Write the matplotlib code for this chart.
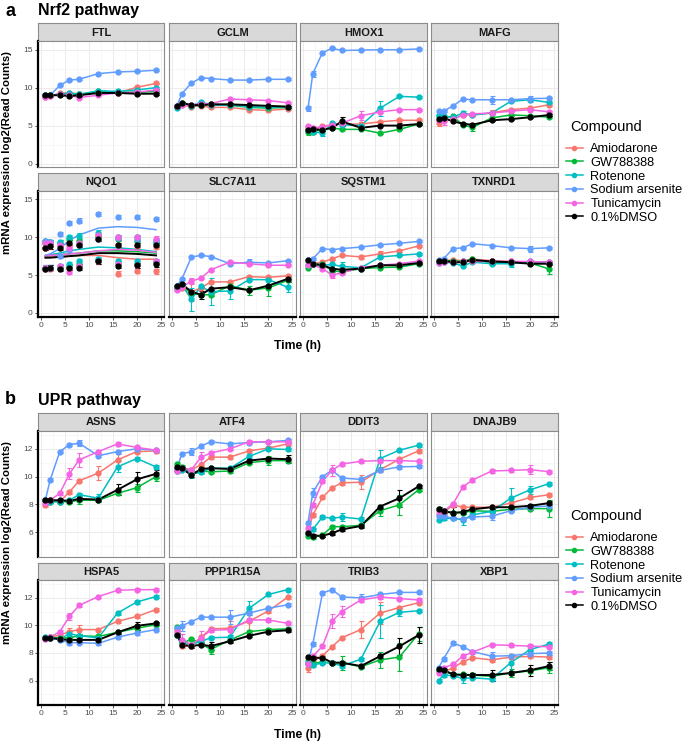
import numpy as np
import matplotlib.pyplot as plt
from matplotlib.lines import Line2D

plt.rcParams['font.family'] = ['Liberation Sans', 'DejaVu Sans']

W, H = 685, 743

times = [1, 2, 4, 6, 8, 12, 16, 20, 24]
compounds = ['AMI', 'GW', 'ROT', 'ARS', 'TUN', 'DMSO']
labels = ['Amiodarone', 'GW788388', 'Rotenone', 'Sodium arsenite', 'Tunicamycin', '0.1%DMSO']
colors = ['#F8766D', '#00BA38', '#00BFC4', '#619CFF', '#F564E3', 'black']

# ---- Nrf2 pathway (mean log2 counts per time point) ----
FTL = {
    'AMI':  [8.8, 8.85, 9.3, 9.3, 9.2, 9.3, 9.3, 10.05, 10.55],
    'GW':   [9.0, 9.0, 9.1, 9.2, 9.1, 9.5, 9.4, 9.4, 9.5],
    'ROT':  [9.0, 9.0, 9.1, 9.3, 9.1, 9.6, 9.5, 9.7, 10.0],
    'ARS':  [9.07, 9.0, 10.3, 11.0, 11.1, 11.85, 12.07, 12.15, 12.3],
    'TUN':  [8.8, 8.9, 9.1, 9.0, 8.7, 9.0, 9.3, 9.4, 9.7],
    'DMSO': [9.0, 9.0, 9.0, 8.9, 9.0, 9.3, 9.3, 9.2, 9.2],
}
GCLM = {
    'AMI':  [7.5, 7.7, 7.5, 7.6, 7.4, 7.4, 7.1, 7.0, 7.2],
    'GW':   [7.6, 8.0, 7.6, 7.7, 7.8, 7.7, 7.4, 7.3, 7.4],
    'ROT':  [7.3, 7.8, 7.6, 8.1, 7.7, 7.7, 7.5, 7.4, 7.5],
    'ARS':  [7.6, 9.2, 10.6, 11.3, 11.2, 11.0, 11.0, 11.1, 11.1],
    'TUN':  [7.6, 7.7, 7.7, 7.9, 7.9, 8.5, 8.4, 8.3, 8.0],
    'DMSO': [7.6, 8.0, 7.7, 7.7, 7.8, 7.8, 7.7, 7.6, 7.5],
}
HMOX1 = {
    'AMI':  [4.7, 4.45, 4.9, 5.1, 5.2, 5.2, 5.5, 5.7, 5.7],
    'GW':   [4.2, 4.2, 4.45, 4.7, 4.5, 4.5, 4.0, 4.5, 5.2],
    'ROT':  [4.45, 4.2, 4.0, 5.3, 5.1, 5.0, 7.3, 8.85, 8.75],
    'ARS':  [7.27, 11.85, 14.6, 15.2, 14.9, 14.95, 15.0, 15.0, 15.1],
    'TUN':  [4.9, 4.7, 4.8, 5.1, 5.3, 6.3, 6.8, 7.1, 7.1],
    'DMSO': [4.45, 4.5, 4.45, 4.7, 5.55, 4.7, 5.0, 5.0, 5.2],
}
MAFG = {
    'AMI':  [5.4, 5.8, 5.8, 6.4, 6.4, 6.7, 7.1, 7.3, 7.75],
    'GW':   [6.2, 6.1, 6.2, 5.1, 4.75, 6.0, 6.4, 6.3, 6.1],
    'ROT':  [6.4, 6.2, 6.1, 6.65, 6.4, 6.65, 8.2, 8.4, 8.05],
    'ARS':  [6.9, 6.9, 7.6, 8.5, 8.4, 8.4, 8.4, 8.55, 8.6],
    'TUN':  [5.7, 5.55, 5.85, 6.4, 6.55, 6.65, 6.9, 7.1, 6.8],
    'DMSO': [5.85, 6.0, 5.55, 5.25, 5.1, 5.7, 5.85, 6.1, 6.4],
}
# NQO1 replicates fall into a high and a low group
NQO1_hi = {
    'AMI':  [8.6, 8.8, 8.8, 9.0, 9.0, 10.0, 9.0, 8.9, 8.7],
    'GW':   [9.2, 9.4, 9.3, 9.8, 9.5, 10.2, 9.8, 9.5, 9.3],
    'ROT':  [9.5, 9.4, 9.4, 10.0, 10.2, 10.6, 10.0, 10.0, 9.5],
    'ARS':  [9.5, 9.4, 10.4, 11.9, 12.2, 13.05, 12.7, 12.7, 12.4],
    'TUN':  [9.3, 9.2, 9.0, 8.6, 9.3, 10.3, 10.0, 10.0, 9.8],
    'DMSO': [8.6, 8.8, 8.6, 9.3, 9.0, 9.8, 9.0, 9.0, 9.0],
}
NQO1_lo = {
    'AMI':  [5.8, 5.8, 6.0, 6.0, 6.2, 6.8, 5.2, 5.6, 5.5],
    'GW':   [6.0, 6.0, 6.0, 6.2, 6.5, 7.0, 6.5, 6.5, 6.6],
    'ROT':  [5.9, 6.0, 6.2, 6.4, 6.8, 7.1, 6.8, 6.8, 6.8],
    'ARS':  [6.0, 6.0, 7.5, 8.3, 9.0, 9.8, 9.9, 9.8, 9.6],
    'TUN':  [6.0, 6.0, 6.2, 5.4, 6.2, 6.8, 6.4, 6.3, 6.8],
    'DMSO': [5.8, 6.0, 5.8, 6.0, 6.0, 6.8, 6.2, 6.3, 6.4],
}
NQO1_fit = {
    'AMI':  [7.3, 7.4, 7.4, 7.5, 7.6, 7.6, 7.3, 7.1, 7.1],
    'GW':   [7.5, 7.6, 7.7, 7.8, 7.9, 8.2, 8.2, 8.1, 7.9],
    'ROT':  [7.6, 7.7, 7.9, 8.2, 8.4, 8.7, 8.6, 8.4, 8.1],
    'ARS':  [7.6, 7.8, 8.5, 9.6, 10.3, 11.2, 11.4, 11.3, 11.0],
    'TUN':  [7.5, 7.6, 7.7, 7.8, 7.9, 8.2, 8.4, 8.3, 8.0],
    'DMSO': [7.3, 7.3, 7.4, 7.5, 7.6, 7.9, 7.9, 7.8, 7.6],
}
SLC7A11 = {
    'AMI':  [3.3, 3.3, 2.8, 3.3, 4.1, 4.1, 4.8, 4.7, 4.9],
    'GW':   [3.5, 3.5, 2.6, 2.4, 2.4, 3.6, 3.0, 3.3, 4.3],
    'ROT':  [3.2, 3.7, 1.8, 3.5, 2.8, 2.9, 4.4, 4.4, 3.4],
    'ARS':  [3.6, 4.45, 7.4, 7.6, 7.45, 6.5, 6.7, 6.6, 6.9],
    'TUN':  [3.0, 3.4, 4.2, 4.6, 5.7, 6.7, 6.5, 6.3, 6.3],
    'DMSO': [3.6, 3.8, 2.8, 2.4, 3.2, 3.4, 3.0, 3.6, 4.5],
}
SQSTM1 = {
    'AMI':  [6.9, 6.5, 6.7, 7.15, 7.6, 7.4, 7.8, 8.2, 8.85],
    'GW':   [6.0, 6.4, 6.4, 5.6, 5.4, 5.85, 6.0, 6.05, 6.5],
    'ROT':  [6.3, 6.4, 6.3, 6.4, 6.15, 5.97, 7.4, 7.6, 7.8],
    'ARS':  [6.95, 7.15, 8.5, 8.35, 8.5, 8.7, 9.0, 9.2, 9.45],
    'TUN':  [6.3, 6.4, 5.85, 5.0, 5.3, 6.0, 6.3, 6.5, 6.85],
    'DMSO': [6.95, 6.5, 6.3, 5.85, 5.7, 5.85, 6.3, 6.3, 6.6],
}
TXNRD1 = {
    'AMI':  [6.8, 6.9, 7.0, 6.9, 7.1, 6.9, 6.8, 6.7, 6.7],
    'GW':   [6.9, 6.9, 6.9, 6.8, 7.1, 6.6, 6.7, 6.6, 5.8],
    'ROT':  [6.6, 6.7, 6.6, 6.2, 6.7, 6.5, 6.5, 6.8, 6.7],
    'ARS':  [6.95, 7.15, 8.5, 8.6, 9.15, 8.9, 8.6, 8.5, 8.6],
    'TUN':  [6.6, 6.7, 6.7, 6.8, 6.8, 6.8, 6.8, 6.8, 6.7],
    'DMSO': [6.8, 6.9, 6.7, 6.7, 7.0, 6.8, 6.7, 6.5, 6.5],
}

# ---- UPR pathway ----
ASNS = {
    'AMI':  [7.97, 8.33, 8.2, 8.9, 9.7, 10.25, 11.2, 11.8, 11.85],
    'GW':   [8.3, 8.2, 8.2, 8.2, 8.3, 8.3, 8.8, 9.2, 10.0],
    'ROT':  [8.3, 8.2, 8.2, 8.3, 8.7, 8.45, 10.7, 11.3, 10.7],
    'ARS':  [8.33, 9.77, 11.8, 12.3, 12.4, 11.5, 11.8, 12.0, 11.9],
    'TUN':  [8.1, 8.3, 8.8, 10.2, 11.2, 11.8, 12.35, 12.1, 11.9],
    'DMSO': [8.3, 8.3, 8.3, 8.25, 8.4, 8.35, 9.05, 9.8, 10.2],
}
ATF4 = {
    'AMI':  [10.5, 10.6, 10.5, 10.85, 11.4, 11.4, 11.85, 12.05, 12.35],
    'GW':   [10.9, 10.7, 10.3, 10.4, 10.35, 10.4, 11.0, 11.15, 11.15],
    'ROT':  [10.4, 10.5, 10.2, 10.3, 10.6, 10.6, 11.45, 12.0, 11.95],
    'ARS':  [10.6, 11.64, 11.8, 12.2, 12.5, 12.35, 12.45, 12.5, 12.6],
    'TUN':  [10.4, 10.6, 10.5, 11.4, 11.7, 12.0, 12.5, 12.5, 12.5],
    'DMSO': [10.7, 10.6, 10.1, 10.55, 10.6, 10.55, 11.15, 11.3, 11.25],
}
DDIT3 = {
    'AMI':  [6.05, 7.25, 8.5, 9.2, 9.55, 9.6, 10.5, 11.25, 11.85],
    'GW':   [5.7, 5.65, 5.8, 6.4, 6.4, 6.5, 7.55, 7.97, 9.05],
    'ROT':  [5.93, 6.2, 7.1, 7.0, 7.1, 6.95, 11.3, 11.9, 12.25],
    'ARS':  [6.7, 8.85, 10.0, 10.45, 9.9, 9.8, 10.45, 10.7, 10.73],
    'TUN':  [6.3, 7.97, 9.65, 10.45, 10.9, 11.1, 11.15, 11.15, 11.1],
    'DMSO': [5.93, 5.75, 5.75, 5.93, 6.2, 6.45, 7.85, 8.45, 9.3],
}
DNAJB9 = {
    'AMI':  [7.3, 7.4, 7.97, 7.8, 7.8, 7.8, 8.1, 8.5, 8.7],
    'GW':   [7.7, 7.5, 7.4, 7.4, 7.55, 7.5, 7.65, 7.7, 7.7],
    'ROT':  [6.9, 7.0, 7.0, 6.9, 7.25, 7.5, 8.45, 9.05, 9.5],
    'ARS':  [7.15, 7.15, 7.0, 6.95, 7.1, 7.15, 7.55, 7.8, 7.9],
    'TUN':  [7.5, 7.5, 8.05, 9.25, 9.75, 10.4, 10.45, 10.5, 10.35],
    'DMSO': [7.7, 7.5, 7.4, 7.45, 7.65, 7.8, 7.8, 7.9, 8.1],
}
HSPA5 = {
    'AMI':  [9.1, 9.15, 9.3, 9.55, 9.7, 9.7, 10.3, 10.65, 11.15],
    'GW':   [9.1, 9.1, 9.1, 9.1, 9.25, 9.2, 9.5, 9.8, 10.05],
    'ROT':  [9.15, 9.15, 9.0, 9.4, 9.25, 9.1, 10.9, 11.7, 12.1],
    'ARS':  [9.1, 9.1, 8.95, 8.75, 8.75, 8.7, 9.15, 9.45, 9.7],
    'TUN':  [9.0, 9.15, 9.55, 10.65, 11.45, 12.1, 12.55, 12.6, 12.6],
    'DMSO': [9.1, 9.1, 9.0, 8.95, 8.95, 8.95, 9.5, 9.97, 10.15],
}
PPP1R15A = {
    'AMI':  [9.7, 8.5, 8.5, 9.15, 9.75, 9.8, 10.3, 11.05, 12.05],
    'GW':   [9.9, 8.7, 9.0, 8.7, 8.25, 8.95, 9.55, 9.7, 9.75],
    'ROT':  [9.3, 8.85, 8.6, 8.85, 9.1, 9.15, 11.25, 12.25, 12.6],
    'ARS':  [9.8, 9.97, 10.28, 10.6, 10.6, 10.6, 10.9, 11.25, 11.5],
    'TUN':  [9.55, 8.95, 8.6, 9.1, 9.65, 9.7, 10.4, 10.4, 10.15],
    'DMSO': [9.3, 8.6, 8.5, 8.6, 8.5, 8.85, 9.25, 9.55, 9.65],
}
TRIB3 = {
    'AMI':  [6.93, 7.4, 7.8, 8.45, 9.1, 9.7, 10.9, 11.3, 11.65],
    'GW':   [7.4, 7.25, 7.35, 7.25, 7.3, 7.0, 7.5, 7.7, 9.4],
    'ROT':  [7.17, 7.1, 7.3, 7.3, 7.05, 7.55, 10.3, 10.95, 11.07],
    'ARS':  [7.3, 8.65, 12.35, 12.6, 12.07, 12.0, 12.25, 12.4, 12.4],
    'TUN':  [7.17, 7.77, 8.48, 10.3, 11.0, 11.85, 12.07, 11.95, 11.85],
    'DMSO': [7.7, 7.65, 7.65, 7.3, 7.3, 7.05, 7.77, 8.48, 9.3],
}
XBP1 = {
    'AMI':  [6.7, 6.6, 6.93, 7.35, 7.65, 7.5, 7.7, 7.75, 7.7],
    'GW':   [6.75, 6.75, 6.4, 6.45, 6.4, 6.3, 6.55, 6.7, 6.93],
    'ROT':  [6.0, 6.4, 6.35, 6.15, 6.2, 6.1, 7.3, 8.25, 8.65],
    'ARS':  [6.93, 7.57, 8.72, 8.45, 8.1, 7.77, 7.8, 7.95, 8.0],
    'TUN':  [6.57, 6.93, 7.17, 7.77, 8.05, 8.6, 8.55, 8.5, 8.45],
    'DMSO': [6.85, 6.75, 6.45, 6.4, 6.4, 6.4, 6.55, 6.75, 7.05],
}

# standard deviations that are visibly larger than the usual small whiskers
sd_default = 0.12
sd_big = {
    ('HMOX1', 'DMSO'): {8: 0.6, 20: 0.4}, ('HMOX1', 'AMI'): {2: 0.5},
    ('HMOX1', 'ROT'): {4: 0.35, 16: 1.0}, ('HMOX1', 'TUN'): {12: 0.6},
    ('HMOX1', 'GW'): {1: 0.5}, ('HMOX1', 'ARS'): {1: 0.3, 2: 0.4},
    ('MAFG', 'GW'): {8: 0.5}, ('MAFG', 'AMI'): {1: 0.4, 12: 0.3},
    ('MAFG', 'TUN'): {2: 0.5}, ('MAFG', 'ARS'): {12: 0.5, 20: 0.4},
    ('MAFG', 'ROT'): {6: 0.3},
    ('SLC7A11', 'ROT'): {4: 1.5, 8: 1.8, 12: 1.0, 24: 0.7},
    ('SLC7A11', 'AMI'): {4: 1.2}, ('SLC7A11', 'GW'): {16: 0.6, 20: 1.1},
    ('SLC7A11', 'ARS'): {16: 0.4}, ('SLC7A11', 'DMSO'): {6: 0.5, 24: 0.4},
    ('SLC7A11', 'TUN'): {4: 0.4},
    ('SQSTM1', 'TUN'): {6: 0.4}, ('SQSTM1', 'ROT'): {8: 0.6},
    ('SQSTM1', 'AMI'): {12: 0.3, 16: 0.4},
    ('TXNRD1', 'GW'): {24: 0.6}, ('TXNRD1', 'ROT'): {16: 0.4},
    ('TXNRD1', 'ARS'): {20: 0.4}, ('TXNRD1', 'DMSO'): {4: 0.3},
    ('ASNS', 'TUN'): {6: 0.4, 8: 0.5}, ('ASNS', 'AMI'): {12: 0.5, 16: 0.4},
    ('ASNS', 'ROT'): {12: 0.3, 16: 0.4}, ('ASNS', 'DMSO'): {16: 0.4, 20: 0.5, 24: 0.3},
    ('ASNS', 'GW'): {8: 0.3, 20: 0.3, 24: 0.3}, ('ASNS', 'ARS'): {8: 0.2},
    ('ATF4', 'TUN'): {6: 0.35}, ('ATF4', 'ARS'): {4: 0.25}, ('ATF4', 'ROT'): {4: 0.3},
    ('ATF4', 'GW'): {20: 0.3}, ('ATF4', 'DMSO'): {24: 0.3},
    ('DDIT3', 'ROT'): {8: 0.3, 16: 0.6}, ('DDIT3', 'AMI'): {12: 0.5},
    ('DDIT3', 'DMSO'): {20: 0.6}, ('DDIT3', 'GW'): {16: 0.4, 20: 0.7},
    ('DDIT3', 'TUN'): {6: 0.4}, ('DDIT3', 'ARS'): {2: 0.3},
    ('DNAJB9', 'ROT'): {6: 0.4, 16: 0.7, 20: 0.3}, ('DNAJB9', 'TUN'): {20: 0.3},
    ('DNAJB9', 'GW'): {24: 0.6}, ('DNAJB9', 'ARS'): {12: 0.3},
    ('DNAJB9', 'DMSO'): {4: 0.4},
    ('HSPA5', 'TUN'): {6: 0.25}, ('HSPA5', 'ROT'): {6: 0.2},
    ('HSPA5', 'AMI'): {6: 0.3, 8: 0.3}, ('HSPA5', 'ARS'): {6: 0.2},
    ('HSPA5', 'DMSO'): {20: 0.3},
    ('PPP1R15A', 'ARS'): {2: 0.35, 12: 0.5}, ('PPP1R15A', 'TUN'): {2: 0.4, 6: 0.5},
    ('PPP1R15A', 'AMI'): {12: 0.5, 16: 0.6}, ('PPP1R15A', 'ROT'): {16: 0.5},
    ('PPP1R15A', 'GW'): {8: 0.3}, ('PPP1R15A', 'DMSO'): {8: 0.3},
    ('TRIB3', 'TUN'): {6: 0.5, 8: 0.4}, ('TRIB3', 'AMI'): {1: 0.3, 12: 0.6, 16: 0.8},
    ('TRIB3', 'ROT'): {16: 1.2, 20: 0.3}, ('TRIB3', 'GW'): {8: 0.5, 16: 0.6, 20: 1.0, 24: 0.5},
    ('TRIB3', 'DMSO'): {20: 0.6, 24: 0.6}, ('TRIB3', 'ARS'): {12: 0.3},
    ('XBP1', 'ROT'): {6: 0.3, 16: 0.6}, ('XBP1', 'DMSO'): {12: 0.4, 20: 0.4, 24: 0.3},
    ('XBP1', 'GW'): {16: 0.3, 24: 0.4}, ('XBP1', 'ARS'): {12: 0.3},
}

nrf2_genes = ['FTL', 'GCLM', 'HMOX1', 'MAFG', 'NQO1', 'SLC7A11', 'SQSTM1', 'TXNRD1']
nrf2_data = [FTL, GCLM, HMOX1, MAFG, None, SLC7A11, SQSTM1, TXNRD1]
upr_genes = ['ASNS', 'ATF4', 'DDIT3', 'DNAJB9', 'HSPA5', 'PPP1R15A', 'TRIB3', 'XBP1']
upr_data = [ASNS, ATF4, DDIT3, DNAJB9, HSPA5, PPP1R15A, TRIB3, XBP1]

fig = plt.figure(figsize=(W / 100, H / 100), dpi=100)

col_x = [37.7, 169.3, 300.3, 431.0]
col_w = 126.5
border = '#8C8C8C'


def add_px_axes(x0, y0, x1, y1):
    return fig.add_axes([x0 / W, 1 - y1 / H, (x1 - x0) / W, (y1 - y0) / H])


def get_sd(gene, comp):
    extra = sd_big.get((gene, comp), {})
    return [extra.get(t, sd_default) for t in times]


def style_panel(ax, ylim, yticks, yminor, first_col, bottom_row):
    ax.set_xlim(-0.6, 25.7)
    ax.set_ylim(*ylim)
    ax.set_xticks([0, 5, 10, 15, 20, 25])
    ax.set_xticks([2.5, 7.5, 12.5, 17.5, 22.5], minor=True)
    ax.set_yticks(yticks)
    ax.set_yticks(yminor, minor=True)
    ax.grid(which='major', color='#EBEBEB', lw=0.7, zorder=0)
    ax.grid(which='minor', color='#F2F2F2', lw=0.4, zorder=0)
    ax.set_axisbelow(True)
    for s in ax.spines.values():
        s.set_color(border)
        s.set_linewidth(0.8)
    ax.tick_params(which='minor', length=0)
    ax.tick_params(which='major', labelsize=6, labelcolor='#4D4D4D',
                   color='#333333', length=2.5, width=0.6, pad=1)
    if first_col:
        ax.spines['left'].set_color('black')
        ax.spines['left'].set_linewidth(1.6)
    else:
        ax.tick_params(axis='y', left=False, labelleft=False)
    if bottom_row:
        ax.spines['bottom'].set_color('black')
        ax.spines['bottom'].set_linewidth(1.6)
    else:
        ax.tick_params(axis='x', bottom=False, labelbottom=False)


def add_strip(x0, y0, y1, name):
    sax = add_px_axes(x0, y0, x0 + col_w, y1)
    sax.set_facecolor('#D9D9D9')
    sax.set_xticks([])
    sax.set_yticks([])
    for s in sax.spines.values():
        s.set_color(border)
        s.set_linewidth(0.8)
    sax.text(0.5, 0.47, name, ha='center', va='center', fontsize=8,
             fontweight='bold', color='#1A1A1A', transform=sax.transAxes)


def draw_series(ax, gene, data):
    for comp, col in zip(compounds, colors):
        lw = 1.4 if comp == 'DMSO' else 1.1
        ax.plot(times, data[comp], color=col, lw=lw, zorder=3)
        ax.errorbar(times, data[comp], yerr=get_sd(gene, comp), fmt='o', ms=3.5,
                    color=col, ecolor=col, elinewidth=0.8, capsize=1.8,
                    capthick=0.8, zorder=4)


def draw_nqo1(ax):
    for comp, col in zip(compounds, colors):
        lw = 1.4 if comp == 'DMSO' else 1.1
        for grp in (NQO1_hi, NQO1_lo):
            ax.errorbar(times, grp[comp], yerr=0.3, fmt='o', ms=3.5, color=col,
                        ecolor=col, elinewidth=0.8, capsize=1.8, capthick=0.8,
                        zorder=4)
        ax.plot(times, NQO1_fit[comp], color=col, lw=lw, zorder=3)


def draw_block(genes, datasets, rows, ylim, yticks, yminor):
    for i, (gene, data) in enumerate(zip(genes, datasets)):
        r, c = divmod(i, 4)
        (s0, s1), (p0, p1) = rows[r]
        x0 = col_x[c]
        add_strip(x0, s0, s1, gene)
        ax = add_px_axes(x0, p0, x0 + col_w, p1)
        style_panel(ax, ylim, yticks, yminor, c == 0, r == 1)
        if data is None:
            draw_nqo1(ax)
        else:
            draw_series(ax, gene, data)


# panel a
draw_block(nrf2_genes, nrf2_data,
           [((23.3, 41.0), (41.0, 167.3)), ((172.7, 190.7), (190.7, 316.7))],
           (-0.5, 16.15), [0, 5, 10, 15], [2.5, 7.5, 12.5])
# panel b
draw_block(upr_genes, upr_data,
           [((412.7, 430.7), (430.7, 557.3)), ((562.7, 580.0), (580.0, 705.3))],
           (4.2, 13.3), [6, 8, 10, 12], [5, 7, 9, 11, 13])

# titles and axis labels
for lab, title, yc in [('a', 'Nrf2 pathway', 11), ('b', 'UPR pathway', 400)]:
    fig.text(5 / W, 1 - yc / H, lab, fontsize=13, fontweight='bold', va='center')
    fig.text(38 / W, 1 - yc / H, title, fontsize=11.5, fontweight='bold', va='center')

for yc in [153, 543]:
    fig.text(7 / W, 1 - yc / H, 'mRNA expression log2(Read Counts)', rotation=90,
             fontsize=8.2, fontweight='bold', ha='center', va='center')
for yc in [346, 735]:
    fig.text(297 / W, 1 - yc / H, 'Time (h)', fontsize=8.7, fontweight='bold',
             ha='center', va='center')

# legends: title placed separately to match the wider title gap
handles = [Line2D([0], [0], color=c, marker='o', ms=3, lw=1.1) for c in colors]
for ytitle in [127, 516]:
    fig.text(570 / W, 1 - ytitle / H, 'Compound', fontsize=10.5, va='center')
    fig.legend(handles, labels, loc='upper left',
               bbox_to_anchor=(566 / W, 1 - (ytitle + 16) / H), frameon=False,
               fontsize=9.2, handlelength=1.3, handletextpad=0.6,
               labelspacing=0.14, borderaxespad=0, borderpad=0)

fig.savefig('out.png', dpi=100)
